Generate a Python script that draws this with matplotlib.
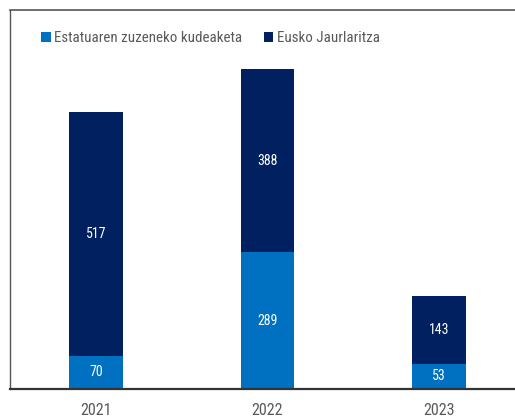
import matplotlib
matplotlib.use("Agg")
import matplotlib.pyplot as plt
from matplotlib import font_manager
from matplotlib.patches import Patch

years = ["2021", "2022", "2023"]
estatua = [70, 289, 53]
eusko = [517, 388, 143]
series_names = ["Estatuaren zuzeneko kudeaketa", "Eusko Jaurlaritza"]
colors = ["#0070C0", "#002060"]

names = {f.name for f in font_manager.fontManager.ttflist}
fam = "DejaVu Sans"
for cand in ["Liberation Sans Narrow", "Roboto Condensed", "Open Sans Condensed", "DejaVu Sans"]:
    if cand in names:
        fam = cand
        break
plt.rcParams["font.family"] = [fam, "DejaVu Sans"]
plt.rcParams["font.stretch"] = "condensed"

fig = plt.figure(figsize=(5.15, 4.19), dpi=100)
ax = fig.add_axes([10/515, 1 - 389/419, 505/515, 379/419])

x = list(range(len(years)))
w = 0.31
ax.bar(x, estatua, width=w, color=colors[0], label=series_names[0])
ax.bar(x, eusko, width=w, bottom=estatua, color=colors[1], label=series_names[1])

for xi, v in zip(x, estatua):
    ax.text(xi, v / 2, str(v), ha="center", va="center", color="white", fontsize=10)
for xi, b, v in zip(x, estatua, eusko):
    ax.text(xi, b + v / 2, str(v), ha="center", va="center", color="white", fontsize=10)

ax.set_xlim(-0.501, 2.443)
ax.set_ylim(0, 802)
ax.set_yticks([])
ax.set_xticks(x)
ax.set_xticklabels(years, fontsize=11.5, color="#595959")
ax.tick_params(axis="x", length=0, pad=10)

ax.spines["right"].set_visible(False)
ax.spines["top"].set_color("#555555")
ax.spines["top"].set_linewidth(1.2)
ax.spines["left"].set_color("#555555")
ax.spines["left"].set_linewidth(1.0)
ax.spines["bottom"].set_color("#333333")
ax.spines["bottom"].set_linewidth(1.6)

handles = [Patch(facecolor=c) for c in colors]
leg = ax.legend(handles, series_names, ncol=2, loc="upper left",
                bbox_to_anchor=(25/505, 1 - 15/379), frameon=False,
                fontsize=10.8, handlelength=0.65, handleheight=0.65,
                handletextpad=0.25, columnspacing=1.4, borderaxespad=0)
for t in leg.get_texts():
    t.set_color("#595959")

fig.savefig("out.png", dpi=100)
